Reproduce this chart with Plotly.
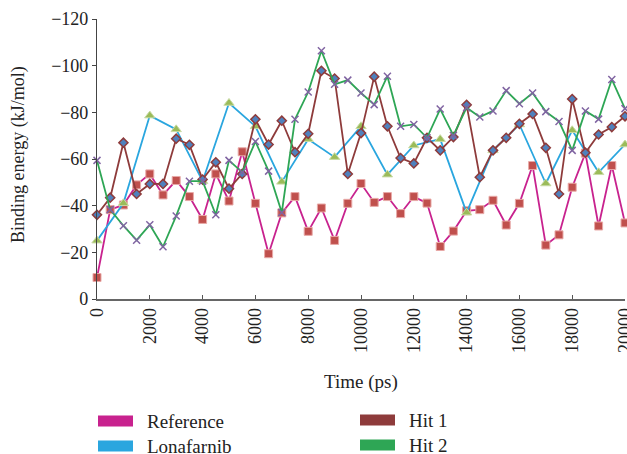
import plotly.graph_objects as go

time_500 = list(range(0, 20001, 500))
time_1000 = list(range(0, 20001, 1000))
x_tick_vals = list(range(0, 20001, 2000))
x_tick_text = [str(v) for v in x_tick_vals]
y_tick_vals = list(range(0, -121, -20))

reference = [-9.2, -38.3, -40.3, -48.9, -53.6, -44.6, -50.8, -43.9, -34.1, -53.6,
             -42.0, -63.1, -41.0, -19.4, -36.9, -43.9, -29.0, -39.0, -25.1, -41.0,
             -49.5, -41.4, -43.9, -36.6, -43.9, -41.1, -22.5, -29.1, -37.8, -38.3,
             -42.3, -31.7, -41.0, -57.2, -23.1, -27.5, -47.9, -62.5, -31.3, -57.2,
             -32.6]

lonafarnib = [-25.0, -41.0, -78.6, -72.7, -50.5, -84.0, -74.0, -50.2, -68.5, -60.8,
              -74.0, -53.3, -65.8, -68.5, -37.0, -63.7, -74.8, -49.5, -72.3, -54.3,
              -66.2]

hit1 = [-36.1, -43.4, -67.0, -45.0, -49.3, -49.3, -68.7, -66.1, -51.2, -58.6,
        -47.3, -53.6, -77.0, -66.2, -76.4, -62.9, -70.8, -97.8, -94.5, -53.6,
        -71.1, -95.3, -74.0, -60.4, -58.1, -69.1, -63.7, -69.4, -83.2, -52.2,
        -63.7, -69.1, -75.1, -79.3, -64.8, -45.0, -85.7, -62.7, -70.5, -73.7,
        -78.3]

hit2 = [-59.4, -38.3, -31.4, -25.2, -31.8, -22.4, -35.6, -50.5, -50.5, -36.1,
        -59.4, -54.3, -67.5, -54.8, -37.1, -77.0, -88.7, -106.4, -92.0, -93.8,
        -88.3, -83.3, -95.5, -74.0, -74.8, -69.1, -81.4, -70.1, -82.0, -78.0,
        -80.6, -89.3, -83.7, -88.3, -80.3, -76.1, -63.7, -80.6, -77.1, -94.1,
        -81.6]

series_names = ["Reference", "Lonafarnib", "Hit 1", "Hit 2"]
line_colors = ["#C8228E", "#2AA6DF", "#8E3B3B", "#2EA655"]

FONT = "Liberation Serif"
W, H = 627, 454
L, R, T, B = 97, 2, 19, 155

fig = go.Figure()

fig.add_trace(go.Scatter(
    x=time_500, y=reference, mode="lines+markers", name=series_names[0],
    line=dict(color=line_colors[0], width=1.8),
    marker=dict(symbol="square", size=8, color="#C0504D",
                line=dict(color="#E8A9A7", width=1)),
    cliponaxis=False))

fig.add_trace(go.Scatter(
    x=time_1000, y=lonafarnib, mode="lines+markers", name=series_names[1],
    line=dict(color=line_colors[1], width=1.8),
    marker=dict(symbol="triangle-up", size=9, color="#9BBB59",
                line=dict(color="#C9DBA5", width=1)),
    cliponaxis=False))

fig.add_trace(go.Scatter(
    x=time_500, y=hit1, mode="lines+markers", name=series_names[2],
    line=dict(color=line_colors[2], width=1.8),
    marker=dict(symbol="diamond", size=7, color="#4F81BD",
                line=dict(color="#8E3B3B", width=1.5)),
    cliponaxis=False))

fig.add_trace(go.Scatter(
    x=time_500, y=hit2, mode="lines+markers", name=series_names[3],
    line=dict(color=line_colors[3], width=1.8),
    marker=dict(symbol="x-thin", size=7, color="#8064A2",
                line=dict(color="#8064A2", width=1.5)),
    cliponaxis=False))

pw = W - L - R
ph = H - T - B


def px_x(p):
    return (p - L) / pw


def px_y(p):
    return (H - B - p) / ph


# custom legend (rectangular swatches)
legend_items = [
    (series_names[0], line_colors[0], 98, 421),
    (series_names[1], line_colors[1], 98, 446),
    (series_names[2], line_colors[2], 360, 420),
    (series_names[3], line_colors[3], 360, 445),
]
shapes = []
annotations = []
for name, col, sx, sy in legend_items:
    shapes.append(dict(type="rect", xref="paper", yref="paper",
                       x0=px_x(sx), x1=px_x(sx + 35),
                       y0=px_y(sy - 5.5), y1=px_y(sy + 5.5),
                       fillcolor=col, line=dict(width=0)))
    annotations.append(dict(text=name, xref="paper", yref="paper",
                            x=px_x(sx + 47), y=px_y(sy), xanchor="left",
                            yanchor="middle", showarrow=False,
                            font=dict(family=FONT, size=19, color="#222")))

annotations.append(dict(text="Time (ps)", xref="paper", yref="paper",
                        x=px_x(361), y=px_y(382), xanchor="center",
                        yanchor="middle", showarrow=False,
                        font=dict(family=FONT, size=19, color="#222")))
annotations.append(dict(text="Binding energy (kJ/mol)", xref="paper",
                        yref="paper", x=px_x(18), y=px_y(155),
                        xanchor="center", yanchor="middle", textangle=-90,
                        showarrow=False,
                        font=dict(family=FONT, size=18, color="#222")))

fig.update_layout(
    width=W, height=H,
    margin=dict(l=L, r=R, t=T, b=B, autoexpand=False),
    paper_bgcolor="white", plot_bgcolor="white",
    showlegend=False,
    font=dict(family=FONT, size=18, color="#222"),
    shapes=shapes, annotations=annotations,
    xaxis=dict(range=[0, 20000], tickvals=x_tick_vals, ticktext=x_tick_text,
               tickangle=-90, ticks="inside", ticklen=4, tickcolor="#555",
               showline=True, linecolor="#666", linewidth=1.5,
               showgrid=False, zeroline=False, automargin=False,
               ticklabeloverflow="allow",
               tickfont=dict(family=FONT, size=18, color="#222")),
    yaxis=dict(range=[0, -120], tickvals=y_tick_vals,
               ticks="outside", ticklen=4, tickcolor="#444",
               showline=True, linecolor="#444", linewidth=1.2,
               showgrid=False, zeroline=False, automargin=False,
               ticklabeloverflow="allow",
               tickfont=dict(family=FONT, size=18, color="#222")),
)

fig.write_html(
    "out.html",
    config={"displayModeBar": False},
    post_script="document.body.style.margin='0px';document.body.style.overflow='hidden';",
)
